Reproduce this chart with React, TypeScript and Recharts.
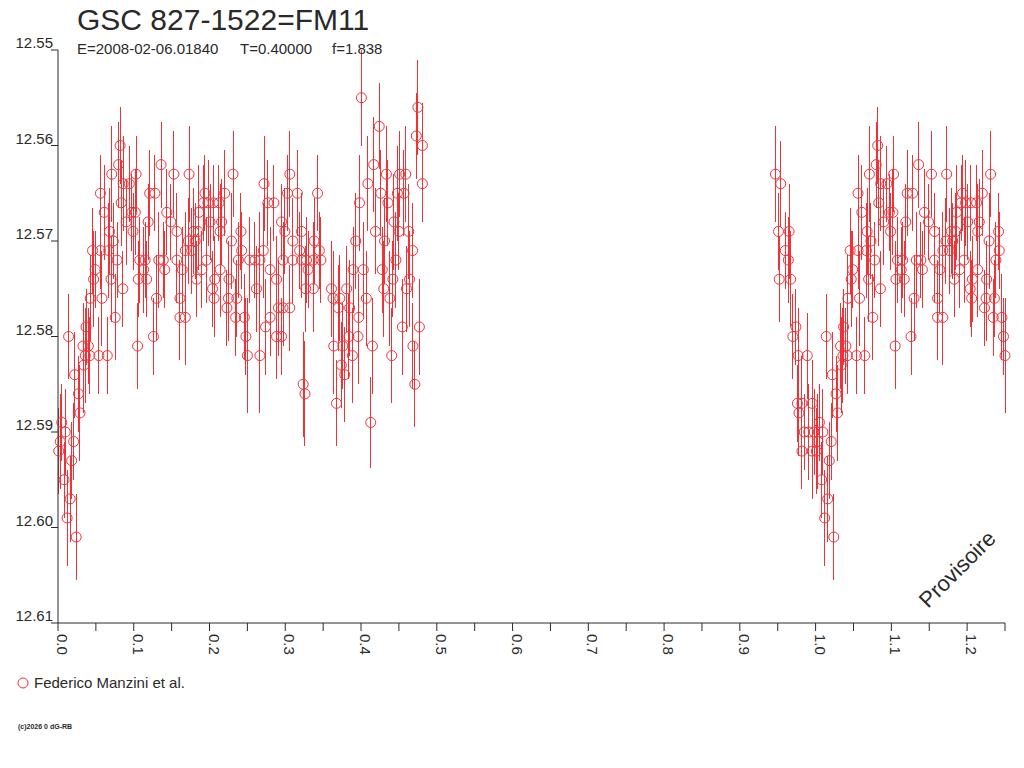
import { ScatterChart, Scatter, XAxis, YAxis, ErrorBar } from "recharts"

// [phase, magnitude, error]
type Obs = [number, number, number]

const TITLE = "GSC 827-1522=FM11"
const EPOCH = "E=2008-02-06.01840"
const PERIOD = "T=0.40000"
const FRACTION = "f=1.838"
const OBSERVER = "Federico Manzini et al."
const CREDIT = "(c)2026 0 dG-RB"
const STAMP = "Provisoire"

const RED = "#ee3238"
const INK = "#2a2a2a"
const FONT = "'Liberation Sans', Arial, sans-serif"

const PHASE_MIN = 0
const PHASE_MAX = 1.25

const xTicks = [
  0, 0.05, 0.1, 0.15, 0.2, 0.25, 0.3, 0.35, 0.4, 0.45, 0.5, 0.55, 0.6, 0.65,
  0.7, 0.75, 0.8, 0.85, 0.9, 0.95, 1.0, 1.05, 1.1, 1.15, 1.2, 1.25,
]
const yTicks = [12.55, 12.56, 12.57, 12.58, 12.59, 12.6, 12.61]

// before the minimum (only visible one cycle later, near phase 0.95)
const ingress: Obs[] = [
  [-0.053, 12.563, 0.005], [-0.046, 12.564, 0.0045], [-0.049, 12.569, 0.004],
  [-0.035, 12.569, 0.005], [-0.04, 12.571, 0.004], [-0.036, 12.572, 0.0045],
  [-0.048, 12.574, 0.0045], [-0.033, 12.574, 0.005], [-0.026, 12.579, 0.004],
  [-0.03, 12.58, 0.0045], [-0.023, 12.582, 0.005], [-0.011, 12.582, 0.0045],
  [-0.024, 12.587, 0.004], [-0.018, 12.587, 0.005], [-0.022, 12.588, 0.0045],
  [-0.015, 12.59, 0.004], [-0.009, 12.59, 0.005], [-0.002, 12.59, 0.0045],
  [-0.0045, 12.587, 0.0045], [-0.018, 12.592, 0.004], [-0.0045, 12.592, 0.005],
]

const minimum: Obs[] = [
  [0.001, 12.592, 0.0045], [0.005, 12.589, 0.004], [0.003, 12.591, 0.005],
  [0.0096, 12.59, 0.0045], [0.008, 12.595, 0.004], [0.012, 12.599, 0.005],
  [0.016, 12.597, 0.0045], [0.018, 12.593, 0.004], [0.0206, 12.591, 0.004],
  [0.024, 12.601, 0.0045], [0.014, 12.58, 0.0045], [0.022, 12.584, 0.0045],
  [0.027, 12.586, 0.004], [0.029, 12.588, 0.005], [0.034, 12.583, 0.005],
  [0.037, 12.579, 0.004], [0.033, 12.581, 0.0045], [0.04, 12.581, 0.004],
  [0.036, 12.582, 0.005], [0.042, 12.582, 0.004],
]

const rise: Obs[] = [
  [0.054, 12.582, 0.004], [0.065, 12.582, 0.004], [0.0426, 12.576, 0.0045],
  [0.058, 12.576, 0.005], [0.047, 12.574, 0.005], [0.049, 12.573, 0.004],
  [0.0456, 12.571, 0.0045], [0.056, 12.571, 0.004], [0.067, 12.571, 0.005],
  [0.07, 12.574, 0.0045], [0.078, 12.572, 0.004], [0.0755, 12.578, 0.0045],
  [0.0856, 12.575, 0.004], [0.056, 12.565, 0.004], [0.061, 12.567, 0.005],
  [0.068, 12.569, 0.0045], [0.073, 12.57, 0.004], [0.071, 12.563, 0.005],
  [0.08, 12.562, 0.0045], [0.082, 12.56, 0.004], [0.0834, 12.566, 0.0045],
  [0.086, 12.564, 0.005], [0.094, 12.564, 0.004], [0.09, 12.568, 0.0045],
  [0.0975, 12.567, 0.004], [0.102, 12.567, 0.0045], [0.099, 12.569, 0.004],
]

const plateau: Obs[] = [
  [0.103, 12.563, 0.004], [0.105, 12.581, 0.0045], [0.106, 12.574, 0.004],
  [0.108, 12.572, 0.0045], [0.115, 12.572, 0.004], [0.113, 12.573, 0.0045],
  [0.117, 12.574, 0.004], [0.119, 12.568, 0.004], [0.121, 12.565, 0.0045],
  [0.128, 12.565, 0.004], [0.126, 12.58, 0.004], [0.13, 12.576, 0.0045],
  [0.133, 12.572, 0.005], [0.139, 12.572, 0.004], [0.136, 12.562, 0.0045],
  [0.141, 12.573, 0.004], [0.1436, 12.567, 0.0045], [0.149, 12.568, 0.004],
  [0.153, 12.563, 0.0045], [0.157, 12.569, 0.004], [0.157, 12.572, 0.0045],
  [0.161, 12.576, 0.004], [0.161, 12.578, 0.0045], [0.168, 12.578, 0.005],
  [0.173, 12.563, 0.005], [0.231, 12.563, 0.0045], [0.306, 12.563, 0.0045],
  [0.272, 12.564, 0.005], [0.194, 12.565, 0.004], [0.22, 12.565, 0.0045],
  [0.303, 12.565, 0.004], [0.316, 12.565, 0.0045], [0.192, 12.566, 0.004],
  [0.198, 12.566, 0.0045], [0.205, 12.566, 0.004], [0.2125, 12.566, 0.004],
  [0.277, 12.566, 0.0045], [0.285, 12.566, 0.004], [0.186, 12.567, 0.005],
  [0.2007, 12.568, 0.004], [0.216, 12.568, 0.0045], [0.295, 12.568, 0.004],
  [0.179, 12.569, 0.0045], [0.185, 12.569, 0.004], [0.214, 12.569, 0.005],
  [0.2415, 12.569, 0.004], [0.2995, 12.569, 0.0045], [0.3215, 12.569, 0.004],
  [0.172, 12.57, 0.0045], [0.181, 12.57, 0.004], [0.229, 12.57, 0.005],
  [0.31, 12.57, 0.0045], [0.168, 12.571, 0.004], [0.1765, 12.571, 0.0045],
  [0.2424, 12.571, 0.004], [0.271, 12.571, 0.005], [0.319, 12.571, 0.004],
  [0.196, 12.572, 0.0045], [0.238, 12.572, 0.004], [0.253, 12.572, 0.0045],
  [0.26, 12.572, 0.004], [0.2665, 12.572, 0.005], [0.297, 12.572, 0.004],
  [0.31, 12.572, 0.0045], [0.3215, 12.572, 0.004], [0.164, 12.573, 0.0045],
  [0.19, 12.573, 0.004], [0.214, 12.573, 0.005], [0.28, 12.573, 0.0045],
  [0.183, 12.574, 0.004], [0.207, 12.574, 0.0045], [0.2257, 12.574, 0.004],
  [0.2885, 12.574, 0.0045], [0.204, 12.575, 0.004], [0.327, 12.575, 0.0045],
  [0.206, 12.576, 0.004], [0.225, 12.576, 0.0045], [0.236, 12.576, 0.004],
  [0.262, 12.575, 0.0045], [0.223, 12.577, 0.004], [0.291, 12.577, 0.005],
  [0.297, 12.577, 0.004], [0.306, 12.577, 0.0045], [0.2345, 12.578, 0.004],
  [0.246, 12.578, 0.0045], [0.28, 12.578, 0.004], [0.274, 12.579, 0.005],
  [0.248, 12.58, 0.004], [0.2885, 12.58, 0.0045], [0.295, 12.58, 0.004],
  [0.25, 12.582, 0.006], [0.2665, 12.582, 0.006], [0.3236, 12.585, 0.0055],
  [0.326, 12.586, 0.0055],
]

const lateCycle: Obs[] = [
  [0.4005, 12.555, 0.005], [0.424, 12.558, 0.0045], [0.475, 12.556, 0.005],
  [0.473, 12.559, 0.0045], [0.481, 12.56, 0.0045], [0.4167, 12.562, 0.005],
  [0.4335, 12.563, 0.005], [0.451, 12.563, 0.0045], [0.459, 12.563, 0.005],
  [0.409, 12.564, 0.005], [0.481, 12.564, 0.004], [0.3426, 12.565, 0.004],
  [0.426, 12.565, 0.0045], [0.448, 12.565, 0.005], [0.4567, 12.565, 0.0045],
  [0.398, 12.566, 0.005], [0.4355, 12.566, 0.0045], [0.4435, 12.568, 0.005],
  [0.419, 12.569, 0.0045], [0.45, 12.569, 0.004], [0.463, 12.569, 0.005],
  [0.338, 12.57, 0.0045], [0.393, 12.57, 0.005], [0.431, 12.57, 0.0045],
  [0.345, 12.571, 0.004], [0.468, 12.571, 0.005], [0.328, 12.572, 0.0045],
  [0.337, 12.572, 0.004], [0.347, 12.572, 0.0045], [0.446, 12.572, 0.005],
  [0.33, 12.573, 0.004], [0.3895, 12.573, 0.0045], [0.403, 12.573, 0.005],
  [0.428, 12.573, 0.0045], [0.442, 12.574, 0.004], [0.464, 12.574, 0.005],
  [0.337, 12.575, 0.0045], [0.361, 12.575, 0.005], [0.381, 12.575, 0.0045],
  [0.43, 12.575, 0.005], [0.46, 12.575, 0.0045], [0.363, 12.576, 0.005],
  [0.372, 12.576, 0.0045], [0.407, 12.576, 0.005], [0.438, 12.576, 0.005],
  [0.37, 12.577, 0.0045], [0.385, 12.577, 0.005], [0.397, 12.578, 0.0045],
  [0.4545, 12.579, 0.005], [0.477, 12.579, 0.005], [0.384, 12.58, 0.0045],
  [0.396, 12.58, 0.005], [0.364, 12.581, 0.005], [0.376, 12.581, 0.0045],
  [0.415, 12.581, 0.005], [0.4685, 12.581, 0.0045], [0.3886, 12.582, 0.005],
  [0.4405, 12.582, 0.005], [0.374, 12.583, 0.0045], [0.3785, 12.584, 0.005],
  [0.471, 12.585, 0.0045], [0.3676, 12.587, 0.0045], [0.4128, 12.589, 0.0048],
]

const observations = [...ingress, ...minimum, ...rise, ...plateau, ...lateCycle]

// every observation is plotted at its phase and again one cycle later
const points = observations.flatMap(([phase, mag, err]) =>
  [phase, phase + 1]
    .filter((p) => p >= PHASE_MIN && p <= PHASE_MAX)
    .map((p) => ({ phase: p, mag, err }))
)

const PhaseTick = (props: any) => {
  const { x, y, payload } = props
  const v = payload.value
  if (Math.abs(v * 10 - Math.round(v * 10)) > 1e-6) return null
  return (
    <text
      transform={`translate(${x - 1},${y + 1}) rotate(90)`}
      fontSize={15}
      fontFamily={FONT}
      fill={INK}
    >
      {v.toFixed(1)}
    </text>
  )
}

const MagTick = (props: any) => {
  const { x, y, payload } = props
  return (
    <text x={x + 4} y={y - 2} textAnchor="end" fontSize={15} fontFamily={FONT} fill={INK}>
      {payload.value.toFixed(2)}
    </text>
  )
}

const Ring = (props: any) => (
  <circle cx={props.cx} cy={props.cy} r={5} fill="none" stroke={RED} strokeWidth={1} />
)

export default function App() {
  return (
    <div
      style={{
        position: "absolute",
        left: 0,
        top: 0,
        width: 1024,
        height: 768,
        background: "#fff",
      }}
    >
      <style>{`.recharts-errorBar line { shape-rendering: crispEdges; }`}</style>
      <ScatterChart
        width={1024}
        height={768}
        margin={{ top: 50, right: 19, left: 0, bottom: 0 }}
      >
        <XAxis
          type="number"
          dataKey="phase"
          domain={[PHASE_MIN, PHASE_MAX]}
          ticks={xTicks}
          interval={0}
          height={145}
          tickSize={8}
          tick={<PhaseTick />}
          axisLine={{ stroke: INK }}
          tickLine={{ stroke: INK }}
        />
        <YAxis
          type="number"
          dataKey="mag"
          domain={[12.55, 12.61]}
          ticks={yTicks}
          interval={0}
          reversed
          width={58}
          tickSize={7}
          tick={<MagTick />}
          axisLine={{ stroke: INK }}
          tickLine={{ stroke: INK }}
        />
        <Scatter data={points} shape={<Ring />} isAnimationActive={false}>
          <ErrorBar dataKey="err" direction="y" width={0} stroke={RED} strokeWidth={1} />
        </Scatter>
      </ScatterChart>

      <svg
        width={1024}
        height={768}
        style={{ position: "absolute", left: 0, top: 0, pointerEvents: "none" }}
        fontFamily={FONT}
        fill={INK}
      >
        <text x={77} y={30} fontSize={30}>{TITLE}</text>
        <text x={77} y={54} fontSize={15}>{EPOCH}</text>
        <text x={240} y={54} fontSize={15}>{PERIOD}</text>
        <text x={332} y={54} fontSize={15}>{FRACTION}</text>
        <circle cx={23} cy={683} r={5} fill="none" stroke={RED} />
        <text x={34} y={688} fontSize={15}>{OBSERVER}</text>
        <text x={18} y={729} fontSize={7} fontWeight="bold">{CREDIT}</text>
        <text transform="translate(928,609) rotate(-45)" fontSize={22}>{STAMP}</text>
      </svg>
    </div>
  )
}
